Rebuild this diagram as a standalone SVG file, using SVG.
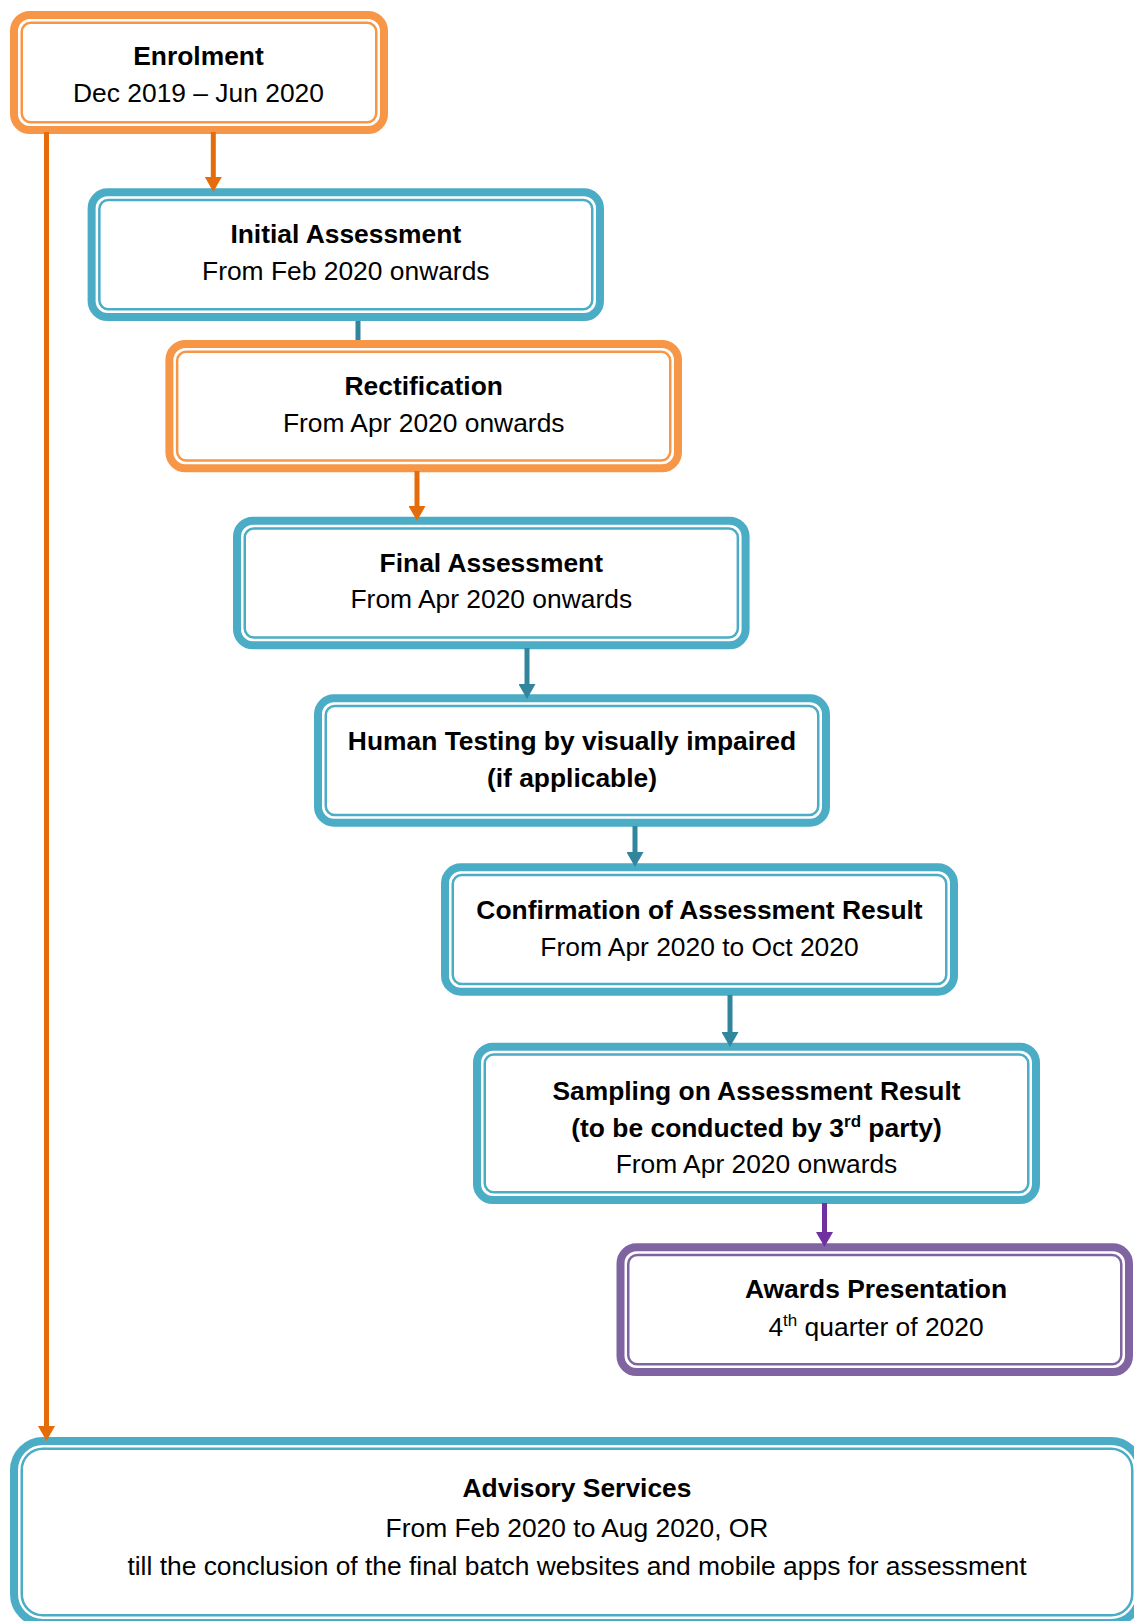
<svg xmlns="http://www.w3.org/2000/svg" width="1134" height="1621" viewBox="0 0 1134 1621">
<style>
  .t { font-family: "Liberation Sans", Arial, sans-serif; font-size: 26.4px; fill: #000; text-anchor: middle; }
  .b { font-weight: bold; }
  .sup { font-size: 17px; }
  .band { fill: #fff; stroke-width: 8; }
  .thin { fill: none; stroke-width: 2.5; }
  .or .band, .or .thin { stroke: #F79646; }
  .te .band, .te .thin { stroke: #4BACC6; }
  .pu .band, .pu .thin { stroke: #8064A2; }
  .c { fill: none; stroke-width: 5; }
  .co { stroke: #E46C0A; }
  .ct { stroke: #31859C; }
  .cp { stroke: #7030A0; }
</style>
<defs>
  <marker id="ao" markerUnits="userSpaceOnUse" markerWidth="15" markerHeight="17" viewBox="0 0 15 17" refX="5" refY="8.5" orient="auto"><path d="M0,0 L15,8.5 L0,17 z" fill="#E46C0A"/></marker>
  <marker id="at" markerUnits="userSpaceOnUse" markerWidth="15" markerHeight="17" viewBox="0 0 15 17" refX="5" refY="8.5" orient="auto"><path d="M0,0 L15,8.5 L0,17 z" fill="#31859C"/></marker>
  <marker id="ap" markerUnits="userSpaceOnUse" markerWidth="15" markerHeight="17" viewBox="0 0 15 17" refX="5" refY="8.5" orient="auto"><path d="M0,0 L15,8.5 L0,17 z" fill="#7030A0"/></marker>
</defs>
<rect width="1134" height="1621" fill="#fff"/>

<g id="enrolment" class="or">
  <rect class="band" x="14" y="15" width="370" height="115" rx="16"/>
  <rect class="thin" x="21.75" y="22.75" width="354.5" height="99.5" rx="9"/>
  <text class="t b" x="198.5" y="65">Enrolment</text>
  <text class="t" x="198.5" y="101.7">Dec 2019 – Jun 2020</text>
</g>

<g id="initial-assessment" class="te">
  <rect class="band" x="91.6" y="192.3" width="508.4" height="124.7" rx="16"/>
  <rect class="thin" x="99.35" y="200.05" width="492.9" height="109.2" rx="9"/>
  <text class="t b" x="345.8" y="243.3">Initial Assessment</text>
  <text class="t" x="345.8" y="280">From Feb 2020 onwards</text>
</g>

<g id="rectification" class="or">
  <rect class="band" x="169.4" y="344" width="508.6" height="124.3" rx="16"/>
  <rect class="thin" x="177.15" y="351.75" width="493.1" height="108.8" rx="9"/>
  <text class="t b" x="423.7" y="395">Rectification</text>
  <text class="t" x="423.7" y="432.3">From Apr 2020 onwards</text>
</g>

<g id="final-assessment" class="te">
  <rect class="band" x="237" y="520.7" width="508.6" height="124.6" rx="16"/>
  <rect class="thin" x="244.75" y="528.45" width="493.1" height="109.1" rx="9"/>
  <text class="t b" x="491.3" y="571.7">Final Assessment</text>
  <text class="t" x="491.3" y="608.3">From Apr 2020 onwards</text>
</g>

<g id="human-testing" class="te">
  <rect class="band" x="318" y="698.3" width="508" height="124.4" rx="16"/>
  <rect class="thin" x="325.75" y="706.05" width="492.5" height="108.9" rx="9"/>
  <text class="t b" x="572" y="750">Human Testing by visually impaired</text>
  <text class="t b" x="572" y="786.7">(if applicable)</text>
</g>

<g id="confirmation" class="te">
  <rect class="band" x="445" y="867.3" width="509" height="124.4" rx="16"/>
  <rect class="thin" x="452.75" y="875.05" width="493.5" height="108.9" rx="9"/>
  <text class="t b" x="699.5" y="919">Confirmation of Assessment Result</text>
  <text class="t" x="699.5" y="956">From Apr 2020 to Oct 2020</text>
</g>

<g id="sampling" class="te">
  <rect class="band" x="477" y="1046.7" width="559" height="153.3" rx="16"/>
  <rect class="thin" x="484.75" y="1054.45" width="543.5" height="137.8" rx="9"/>
  <text class="t b" x="756.5" y="1100">Sampling on Assessment Result</text>
  <text class="t b" x="756.5" y="1137.3">(to be conducted by 3<tspan class="sup" dy="-10">rd</tspan><tspan dy="10"> party)</tspan></text>
  <text class="t" x="756.5" y="1173.3">From Apr 2020 onwards</text>
</g>

<g id="awards" class="pu">
  <rect class="band" x="620.5" y="1247.3" width="508.5" height="124.7" rx="16"/>
  <rect class="thin" x="628.25" y="1255.05" width="493" height="109.2" rx="9"/>
  <text class="t b" x="876" y="1298.3">Awards Presentation</text>
  <text class="t" x="876" y="1336">4<tspan class="sup" dy="-10">th</tspan><tspan dy="10"> quarter of 2020</tspan></text>
</g>

<g id="advisory" class="te">
  <rect class="band" x="14" y="1441" width="1126" height="182" rx="29"/>
  <rect class="thin" x="21.75" y="1448.75" width="1110.5" height="166.5" rx="21"/>
  <text class="t b" x="577" y="1496.7">Advisory Services</text>
  <text class="t" x="577" y="1536.7">From Feb 2020 to Aug 2020, OR</text>
  <text class="t" x="577" y="1575">till the conclusion of the final batch websites and mobile apps for assessment</text>
</g>

<g id="connectors">
  <line class="c co" x1="213.3" y1="132" x2="213.3" y2="182" marker-end="url(#ao)"/>
  <line class="c ct" x1="358" y1="321" x2="358" y2="340"/>
  <line class="c co" x1="417" y1="471" x2="417" y2="511" marker-end="url(#ao)"/>
  <line class="c ct" x1="527" y1="648" x2="527" y2="689" marker-end="url(#at)"/>
  <line class="c ct" x1="635" y1="826" x2="635" y2="857" marker-end="url(#at)"/>
  <line class="c ct" x1="730" y1="995" x2="730" y2="1037" marker-end="url(#at)"/>
  <line class="c cp" x1="824.5" y1="1203" x2="824.5" y2="1237" marker-end="url(#ap)"/>
  <line class="c co" x1="46.5" y1="132" x2="46.5" y2="1431" marker-end="url(#ao)"/>
</g>
</svg>
